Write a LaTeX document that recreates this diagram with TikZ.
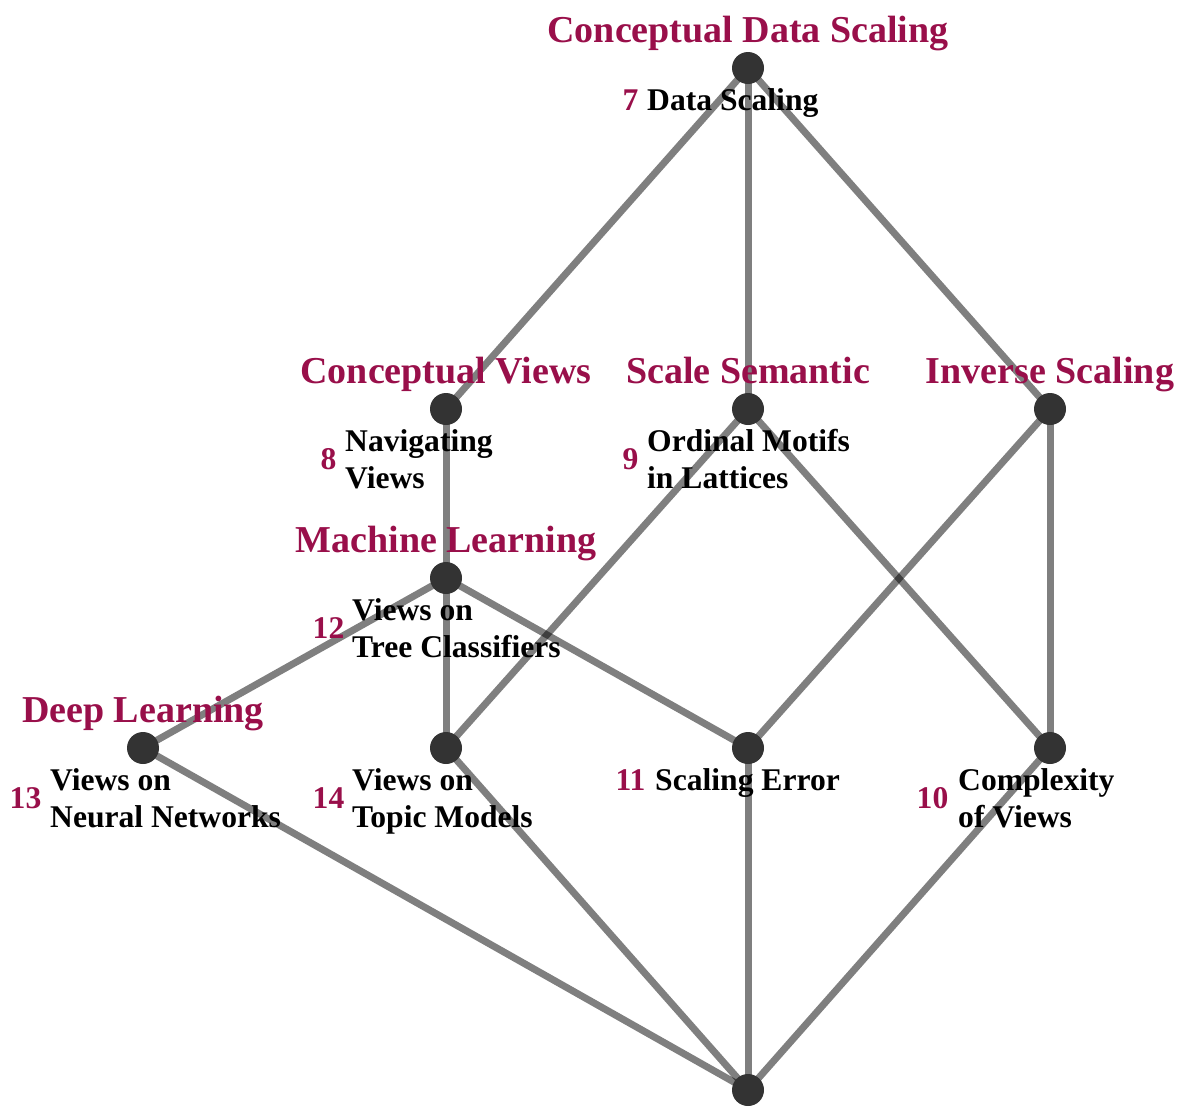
\documentclass[tikz,border=0pt]{standalone}
\usepackage{fontspec}
\setmainfont{Liberation Serif}
\usetikzlibrary{backgrounds}
\definecolor{conceptred}{RGB}{153,15,74}
\definecolor{dotgray}{RGB}{51,51,51}
\begin{document}
\begin{tikzpicture}[x=1pt,y=-1pt,
  dot/.style={circle,fill=dotgray,minimum size=32pt,inner sep=0pt},
  edge/.style={line width=7pt,draw=black,draw opacity=0.5},
  cname/.style={anchor=base,inner sep=0pt,text=conceptred,
    font=\fontsize{38}{44}\selectfont\bfseries},
  oname/.style={anchor=base west,inner sep=0pt,align=left,text=black,
    font=\fontsize{31.6}{37}\selectfont\bfseries},
  onum/.style={anchor=base,inner sep=0pt,text=conceptred,
    font=\fontsize{31.6}{37}\selectfont\bfseries}]
\useasboundingbox (0,0) rectangle (1190,1106);

% lattice elements
\node[dot] (top) at (748,68) {};
\node[dot] (cv)  at (446,409) {};
\node[dot] (ss)  at (748,409) {};
\node[dot] (is)  at (1050,409) {};
\node[dot] (ml)  at (446,578) {};
\node[dot] (dl)  at (143,748) {};
\node[dot] (tm)  at (446,748) {};
\node[dot] (se)  at (748,748) {};
\node[dot] (cx)  at (1050,748) {};
\node[dot] (bot) at (748,1090) {};

% covering relation
\begin{pgfonlayer}{background}
\draw[edge] (top.center) -- (cv.center);
\draw[edge] (top.center) -- (ss.center);
\draw[edge] (top.center) -- (is.center);
\draw[edge] (cv.center) -- (ml.center);
\draw[edge] (ss.center) -- (tm.center);
\draw[edge] (ss.center) -- (cx.center);
\draw[edge] (is.center) -- (se.center);
\draw[edge] (is.center) -- (cx.center);
\draw[edge] (ml.center) -- (dl.center);
\draw[edge] (ml.center) -- (tm.center);
\draw[edge] (ml.center) -- (se.center);
\draw[edge] (dl.center) -- (bot.center);
\draw[edge] (tm.center) -- (bot.center);
\draw[edge] (se.center) -- (bot.center);
\draw[edge] (cx.center) -- (bot.center);
\end{pgfonlayer}

% attribute labels
\node[cname] (topA) at ([yshift=26pt]top.center) {Conceptual Data Scaling};
\node[cname] (cvA)  at ([yshift=26pt]cv.center) {Conceptual Views};
\node[cname] (ssA)  at ([yshift=26pt]ss.center) {Scale Semantic};
\node[cname] (isA)  at ([yshift=26pt]is.center) {Inverse Scaling};
\node[cname] (mlA)  at ([yshift=26pt]ml.center) {Machine Learning};
\node[cname] (dlA)  at ([yshift=26pt]dl.center) {Deep Learning};

% object labels with their numbers (base anchor = last line)
\node[oname] (topO) at ([xshift=-101pt,yshift=-42pt]top.center) {Data Scaling};
\node[onum]  (topN) at ([xshift=-117.5pt,yshift=-42pt]top.center) {7};

\node[oname] (cvO) at ([xshift=-101pt,yshift=-79pt]cv.center) {Navigating\\Views};
\node[onum]  (cvN) at ([xshift=-117.5pt,yshift=-60.5pt]cv.center) {8};

\node[oname] (ssO) at ([xshift=-101pt,yshift=-79pt]ss.center) {Ordinal Motifs\\in Lattices};
\node[onum]  (ssN) at ([xshift=-117.5pt,yshift=-60.5pt]ss.center) {9};

\node[oname] (mlO) at ([xshift=-94pt,yshift=-79pt]ml.center) {Views on\\Tree Classifiers};
\node[onum]  (mlN) at ([xshift=-117.5pt,yshift=-60.5pt]ml.center) {12};

\node[oname] (dlO) at ([xshift=-93pt,yshift=-79pt]dl.center) {Views on\\Neural Networks};
\node[onum]  (dlN) at ([xshift=-117.5pt,yshift=-60.5pt]dl.center) {13};

\node[oname] (tmO) at ([xshift=-94pt,yshift=-79pt]tm.center) {Views on\\Topic Models};
\node[onum]  (tmN) at ([xshift=-117.5pt,yshift=-60.5pt]tm.center) {14};

\node[oname] (seO) at ([xshift=-93pt,yshift=-42pt]se.center) {Scaling Error};
\node[onum]  (seN) at ([xshift=-117.5pt,yshift=-42pt]se.center) {11};

\node[oname] (cxO) at ([xshift=-92pt,yshift=-79pt]cx.center) {Complexity\\of Views};
\node[onum]  (cxN) at ([xshift=-117.5pt,yshift=-60.5pt]cx.center) {10};
\end{tikzpicture}
\end{document}
